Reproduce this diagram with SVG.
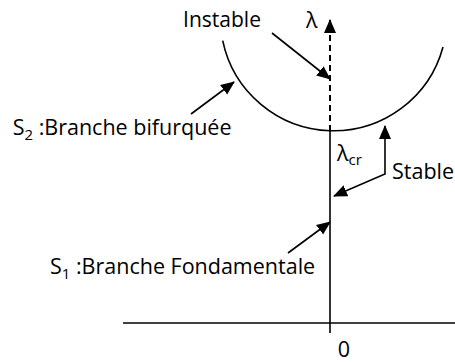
<svg xmlns="http://www.w3.org/2000/svg" width="455" height="362" viewBox="0 0 455 362">
<style>
.t{font-family:"Open Sans","Liberation Sans",sans-serif;font-size:21.5px;fill:#000}
.sub{font-size:15px}
.ln{stroke:#000;stroke-width:1.6;fill:none}
.arr{stroke:#000;stroke-width:1.6;fill:none;marker-end:url(#ah)}
</style>
<defs>
<marker id="ah" markerUnits="userSpaceOnUse" markerWidth="14" markerHeight="13" refX="13" refY="6" orient="auto-start-reverse" viewBox="0 0 14 13">
<path d="M0,0 L14,6 L0,12 z" fill="#000"/>
</marker>
</defs>
<g id="axes">
<line class="ln" x1="123" y1="323" x2="455" y2="323"/>
<line class="ln" x1="330" y1="131" x2="330" y2="333"/>
<line x1="330" y1="131" x2="330" y2="20" stroke="#000" stroke-width="2" stroke-dasharray="6,4" marker-end="url(#ah)"/>
</g>
<g id="curve">
<path class="ln" d="M222.7,40.7 A113.3,113.3 0 0 0 443,47"/>
</g>
<g id="connectors">
<line class="arr" x1="272" y1="33" x2="330" y2="79"/>
<line class="arr" x1="191" y1="114" x2="234" y2="82"/>
<path class="arr" d="M385,126 L385,174 L334,196" style="marker-start:url(#ah)"/>
<line class="arr" x1="288" y1="253" x2="330" y2="222"/>
</g>
<g id="labels">
<text class="t" x="183" y="27" textLength="78" lengthAdjust="spacingAndGlyphs">Instable</text>
<text class="t" x="306" y="28">λ</text>
<text class="t" x="12.7" y="135">S<tspan class="sub" dy="5">2</tspan><tspan dy="-5"> :Branche bifurquée</tspan></text>
<text class="t" x="337" y="161">λ<tspan class="sub" dy="4">cr</tspan></text>
<text class="t" x="392" y="179">Stable</text>
<text class="t" x="50" y="274">S<tspan class="sub" dy="5">1</tspan><tspan dy="-5"> :Branche Fondamentale</tspan></text>
<text class="t" x="344" y="357" text-anchor="middle">0</text>
</g>
</svg>
